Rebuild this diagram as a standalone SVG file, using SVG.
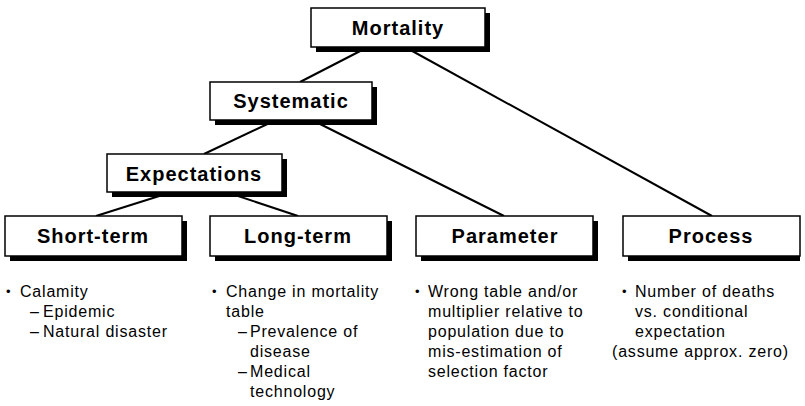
<svg xmlns="http://www.w3.org/2000/svg" width="805" height="406" viewBox="0 0 805 406">
<style>
.box{fill:#fff;stroke:#000;stroke-width:1.5}
.sh{fill:#000}
.lbl{font-family:"Liberation Sans",Arial,sans-serif;font-weight:bold;font-size:20px;letter-spacing:1px;text-anchor:middle;fill:#000}
.txt{font-family:"Liberation Sans",Arial,sans-serif;font-size:16px;letter-spacing:0.8px;fill:#000}
.bul{font-family:"Liberation Sans",Arial,sans-serif;font-size:13px;fill:#000}
.con line{stroke:#000;stroke-width:2}
</style>
<rect width="805" height="406" fill="#fff"/>
<g class="con" id="connectors">
<line x1="368" y1="47" x2="300" y2="82"/>
<line x1="405" y1="47" x2="712" y2="216"/>
<line x1="276" y1="120" x2="204" y2="154"/>
<line x1="312" y1="120" x2="504" y2="216"/>
<line x1="172" y1="192" x2="96" y2="216"/>
<line x1="226" y1="192" x2="298" y2="216"/>
</g>
<g id="mortality">
<rect class="sh" x="316" y="13" width="174" height="39"/>
<rect class="box" x="311" y="8" width="174" height="39"/>
<text class="lbl" x="398" y="35">Mortality</text>
</g>
<g id="systematic">
<rect class="sh" x="215" y="87" width="162" height="38"/>
<rect class="box" x="210" y="82" width="162" height="38"/>
<text class="lbl" x="291" y="108">Systematic</text>
</g>
<g id="expectations">
<rect class="sh" x="112" y="159" width="175" height="38"/>
<rect class="box" x="107" y="154" width="175" height="38"/>
<text class="lbl" x="194" y="181">Expectations</text>
</g>
<g id="short-term">
<rect class="sh" x="10" y="221" width="177" height="40"/>
<rect class="box" x="5" y="216" width="177" height="40"/>
<text class="lbl" x="93" y="243">Short-term</text>
<text class="bul" x="6" y="296">•</text>
<text class="txt" x="20" y="297">Calamity</text>
<text class="txt" x="30" y="317">–<tspan x="43">Epidemic</tspan></text>
<text class="txt" x="30" y="337">–<tspan x="43">Natural disaster</tspan></text>
</g>
<g id="long-term">
<rect class="sh" x="215" y="221" width="177" height="40"/>
<rect class="box" x="210" y="216" width="177" height="40"/>
<text class="lbl" x="298" y="243">Long-term</text>
<text class="bul" x="212" y="296">•</text>
<text class="txt" x="226" y="297">Change in mortality</text>
<text class="txt" x="226" y="317">table</text>
<text class="txt" x="238" y="337">–<tspan x="250">Prevalence of</tspan></text>
<text class="txt" x="250" y="357">disease</text>
<text class="txt" x="238" y="377">–<tspan x="250">Medical</tspan></text>
<text class="txt" x="250" y="397">technology</text>
</g>
<g id="parameter">
<rect class="sh" x="421" y="221" width="177" height="40"/>
<rect class="box" x="416" y="216" width="177" height="40"/>
<text class="lbl" x="505" y="243">Parameter</text>
<text class="bul" x="415" y="296">•</text>
<text class="txt" x="428" y="297">Wrong table and/or</text>
<text class="txt" x="428" y="317">multiplier relative to</text>
<text class="txt" x="428" y="337">population due to</text>
<text class="txt" x="428" y="357">mis-estimation of</text>
<text class="txt" x="428" y="377">selection factor</text>
</g>
<g id="process">
<rect class="sh" x="628" y="221" width="172" height="40"/>
<rect class="box" x="623" y="216" width="177" height="40"/>
<text class="lbl" x="711" y="243">Process</text>
<text class="bul" x="622" y="296">•</text>
<text class="txt" x="635" y="297">Number of deaths</text>
<text class="txt" x="635" y="317">vs. conditional</text>
<text class="txt" x="635" y="337">expectation</text>
<text class="txt" x="612" y="357">(assume approx. zero)</text>
</g>
</svg>
